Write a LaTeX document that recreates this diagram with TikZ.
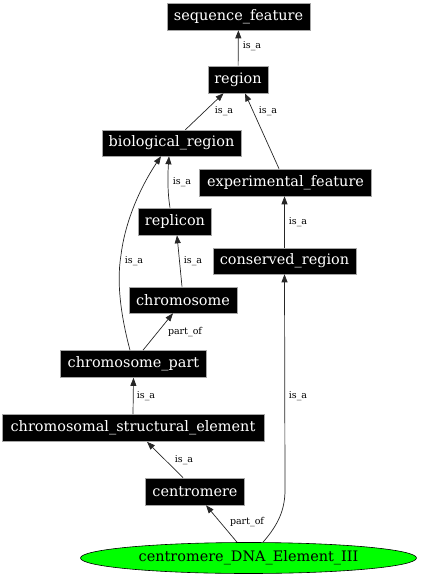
\documentclass[tikz,border=0pt]{standalone}
\usepackage{fontspec}
\setmainfont{DejaVu Serif}
\usetikzlibrary{arrows.meta,calc,shapes.geometric}
\tikzset{
  term/.style={fill=black,draw=gray!70,line width=0.6bp,text=white,inner sep=0pt,font=\fontsize{14.5}{16}\selectfont},
  rel/.style={draw=black!85,line width=0.7bp,-{Triangle[length=8bp,width=6bp]}},
  lab/.style={font=\fontsize{9.5}{10}\selectfont,inner sep=0pt}
}
\begin{document}
\begin{tikzpicture}[x=1bp,y=-1bp]
\useasboundingbox (0,0) rectangle (420,576);
\node[term,minimum width=143bp,minimum height=27bp] (sf) at (238.5,16.5) {sequence\_feature};
\node[term,minimum width=60bp,minimum height=27bp] (region) at (238,79.5) {region};
\node[term,minimum width=139bp,minimum height=26bp] (br) at (171.5,143) {biological\_region};
\node[term,minimum width=172bp,minimum height=27bp] (ef) at (285.5,182.5) {experimental\_feature};
\node[term,minimum width=73bp,minimum height=27bp] (rep) at (175,221.5) {replicon};
\node[term,minimum width=143bp,minimum height=26bp] (cr) at (284.5,261) {conserved\_region};
\node[term,minimum width=108bp,minimum height=26bp] (chr) at (183,300) {chromosome};
\node[term,minimum width=146bp,minimum height=27bp] (cp) at (133.5,364) {chromosome\_part};
\node[term,minimum width=262bp,minimum height=27bp] (cse) at (133,428) {chromosomal\_structural\_element};
\node[term,minimum width=99bp,minimum height=27bp] (cen) at (195,491.5) {centromere};
\node[ellipse,fill=green,draw=black,line width=0.6bp,minimum width=336bp,minimum height=31bp,inner sep=0pt,font=\fontsize{14.5}{16}\selectfont] (ell) at (248.5,558) {centromere\_DNA\_Element\_III};

\draw[rel] (region) -- (sf);
\draw[rel] (br) -- (region);
\draw[rel] ([xshift=-6.5bp]ef.north) -- ([xshift=7bp]region.south);
\draw[rel] ([xshift=-5bp]rep.north) .. controls (167,190) and (168,170) .. ([xshift=-2.5bp]br.south);
\draw[rel] ([xshift=-3.5bp]cp.north) .. controls (122,320) and (116,285) .. (121,255) .. controls (126,215) and (145,180) .. ([xshift=-10.5bp]br.south);
\draw[rel] ([xshift=-1bp]chr.north) -- ([xshift=2bp]rep.south);
\draw[rel] ([xshift=9.5bp]cp.north) -- ([xshift=-10bp]chr.south);
\draw[rel] (cse.north) -- (cp.south);
\draw[rel] ([xshift=-12bp]cen.north) -- ([xshift=14bp]cse.south);
\draw[rel] ([xshift=-11.5bp]ell.north) -- ([xshift=11bp]cen.south);
\draw[rel] ([xshift=14.5bp]ell.north) .. controls (278,525) and (285,510) .. (285,490) -- (cr.south);
\draw[rel] (cr.north) -- (cr.north |- ef.south);

\node[lab] (l1) at (252,46) {is\_a};
\node[lab] (l2) at (224,111) {is\_a};
\node[lab] (l3) at (268,111) {is\_a};
\node[lab] (l4) at (182,182) {is\_a};
\node[lab] (l5) at (298,222) {is\_a};
\node[lab] (l6) at (134,261) {is\_a};
\node[lab] (l7) at (193,261) {is\_a};
\node[lab] (l8) at (185,332) {part\_of};
\node[lab] (l9) at (146,396) {is\_a};
\node[lab] (l10) at (298,396) {is\_a};
\node[lab] (l11) at (184,460) {is\_a};
\node[lab] (l12) at (247,522) {part\_of};
\end{tikzpicture}
\end{document}
